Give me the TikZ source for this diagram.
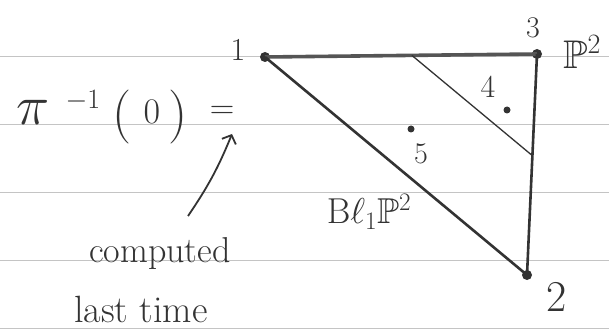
\RequirePackage{fix-cm}
\documentclass[tikz,border=0pt]{standalone}
\usepackage{amssymb}
\DeclareFontFamily{U}{msb}{}
\DeclareFontShape{U}{msb}{m}{n}{<-> msbm10}{}
\usetikzlibrary{arrows.meta,calc}
\definecolor{ink}{HTML}{333333}
\definecolor{inklight}{HTML}{555555}
\definecolor{ruling}{HTML}{C4C4C4}
\begin{document}
\begin{tikzpicture}[x=1pt,y=-1pt,
  vtx/.style={circle,fill=ink,inner sep=0pt,minimum size=10pt},
  dotpt/.style={circle,fill=ink,inner sep=0pt,minimum size=7pt},
  lab/.style={text=ink,inner sep=0pt},
  ruleline/.style={draw=ruling,line width=0.9pt},
  edge/.style={draw=ink,line width=2.6pt},
  topedge/.style={draw=inklight,line width=3.6pt},
  thin/.style={draw=ink,line width=1.3pt},
  arrowline/.style={draw=ink,line width=1.8pt,-{Straight Barb[length=7pt,width=15pt,line width=1.8pt]}}]
\useasboundingbox (0,0) rectangle (609,331);
\fill[white] (0,0) rectangle (609,331);
% ruled paper
\foreach \yy in {56,124,192,260,328} \draw[ruleline] (0,\yy) -- (609,\yy);
% vertices
\node[vtx] (v1) at (265,57) {};
\node[vtx] (v3) at (537,54) {};
\node[vtx] (v2) at (527,275) {};
\draw[topedge] (v1.center) -- (v3.center);
\draw[edge] (v1.center) -- (v2.center);
\draw[edge] (v3.center) -- (v2.center);
\coordinate (a) at ($(v1.center)!0.54!(v3.center)$);
\coordinate (b) at ($(v3.center)!0.46!(v2.center)$);
\draw[thin] (a) -- (b);
\node[dotpt] (p4) at (507,110) {};
\node[dotpt] (p5) at (411,129) {};
% labels
\node[lab,font=\fontsize{32}{36}\selectfont] (l1) at (238,50) {1};
\node[lab,font=\fontsize{30}{34}\selectfont] (l3) at (533,28) {3};
\node[lab,font=\fontsize{40}{44}\selectfont] (lP) at (582,52) {$\mathbb{P}^2$};
\node[lab,font=\fontsize{32}{36}\selectfont] (l4) at (488,87) {4};
\node[lab,font=\fontsize{30}{34}\selectfont] (l5) at (421,154) {5};
\node[lab,font=\fontsize{44}{48}\selectfont] (l2) at (557,297) {2};
\node[lab,font=\fontsize{36}{40}\selectfont] (bl) at (369,212) {$\mathrm{B}\ell_1\mathbb{P}^2$};
% left-hand side
\node[lab,font=\fontsize{56}{60}\selectfont] (pi) at (33,112) {$\pi$};
\node[lab,font=\fontsize{28}{32}\selectfont] (exp) at (83,101) {$-1$};
\node[lab,font=\fontsize{54}{60}\selectfont] (lp) at (122,117) {$($};
\node[lab,font=\fontsize{36}{40}\selectfont] (zero) at (152,112) {$0$};
\node[lab,font=\fontsize{54}{60}\selectfont] (rp) at (178,117) {$)$};
\node[lab,font=\fontsize{34}{38}\selectfont] (eq) at (222,112) {$=$};
\node[lab,font=\fontsize{36}{40}\selectfont,anchor=base] (comp) at (160,262) {computed};
\node[lab,font=\fontsize{38}{42}\selectfont,anchor=base] (last) at (141,322) {last time};
\coordinate (tail) at (188,216);
\coordinate (tip) at (232,134);
\draw[arrowline] (tail) to[bend right=6] (tip);
\end{tikzpicture}
\end{document}
